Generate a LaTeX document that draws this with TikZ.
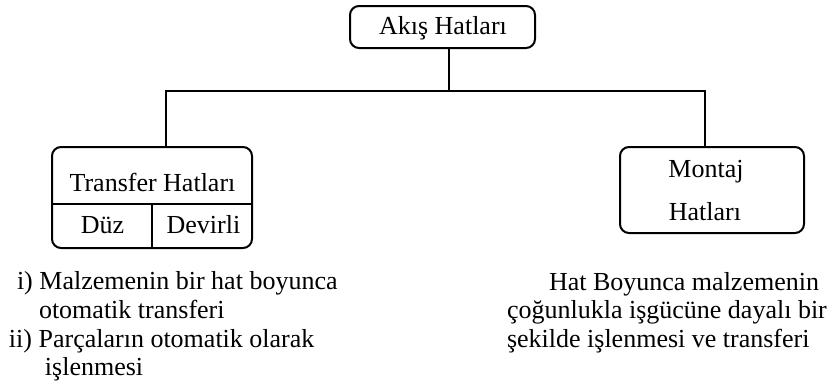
\documentclass[tikz,border=0pt]{standalone}
\usepackage{fontspec}
\setmainfont{Liberation Serif}
\begin{document}
\begin{tikzpicture}[x=1pt,y=-1pt,
  every node/.style={font=\fontsize{26}{29}\selectfont, inner sep=0pt, outer sep=0pt},
  box/.style={draw, line width=2pt, rounded corners=9pt, rectangle},
  link/.style={line width=2pt},
  txt/.style={anchor=base},
  para/.style={anchor=base west}]
  \useasboundingbox (0,0) rectangle (836,383);

  % boxes
  \node[box, minimum width=185pt, minimum height=42pt] (top) at (442.5,27) {};
  \node[txt] (toptxt) at (443,34) {Akış Hatları};

  \node[box, minimum width=200pt, minimum height=101pt] (tr) at (152,197.5) {};
  \node[txt] (trtxt) at (152.5,191) {Transfer Hatları};
  \coordinate (dl) at (52,204);
  \coordinate (dm) at (152,204);
  \coordinate (dr) at (252,204);
  \draw[link] (dl) -- (dr);
  \draw[link] (dm) -- (dm |- tr.south);
  \node[txt] (duz) at (102.5,233) {Düz};
  \node[txt] (dev) at (203.5,233) {Devirli};

  \node[box, minimum width=184pt, minimum height=86pt] (mo) at (712,190) {};
  \node[txt] (mo1) at (706,177) {Montaj};
  \node[txt] (mo2) at (705,220) {Hatları};

  % connectors
  \coordinate (jt) at (449,91);
  \coordinate (jl) at (166,91);
  \coordinate (jr) at (705,91);
  \draw[link] (jt |- top.south) -- (jt);
  \draw[link, line join=miter] (jl |- tr.north) -- (jl) -- (jr) -- (jr |- mo.north);

  % descriptions
  \node[para] (l1) at (17,289) {i) Malzemenin bir hat boyunca};
  \node[para] (l2) at (39,318) {otomatik transferi};
  \node[para] (l3) at (9,347) {ii) Parçaların otomatik olarak};
  \node[para] (l4) at (45,375) {işlenmesi};

  \node[para] (r1) at (549,290) {Hat Boyunca malzemenin};
  \node[para] (r2) at (507,318) {çoğunlukla işgücüne dayalı bir};
  \node[para] (r3) at (507,347) {şekilde işlenmesi ve transferi};
\end{tikzpicture}
\end{document}
